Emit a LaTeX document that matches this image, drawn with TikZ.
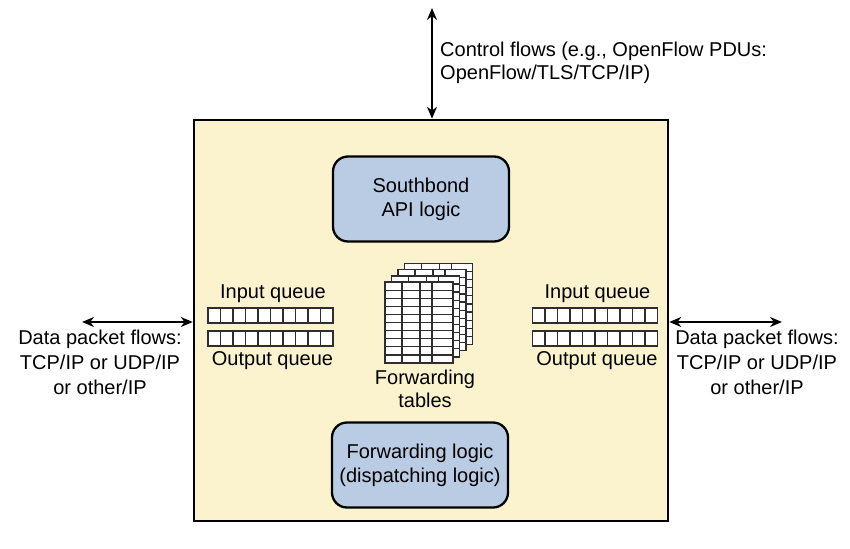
\documentclass[tikz,border=0pt]{standalone}
\usepackage{fontspec}
\setmainfont{Liberation Sans}
\usetikzlibrary{arrows.meta,calc}
\definecolor{boxyellow}{HTML}{FAF3CD}
\definecolor{boxblue}{HTML}{B9CCE4}
\definecolor{cellline}{HTML}{2E2E2E}
\tikzset{
  lbl/.style={font=\fontsize{20}{24}\selectfont, align=center, inner sep=0pt},
  arr/.style={line width=2pt, {Stealth[length=12pt,width=10pt]}-{Stealth[length=12pt,width=10pt]}},
  mainbox/.style={draw=black, fill=boxyellow, line width=2.5pt, minimum width=474pt, minimum height=401pt, inner sep=0pt},
  logicbox/.style={draw=black, fill=boxblue, line width=2.3pt, rounded corners=15pt, minimum width=176pt, minimum height=85pt, align=center, font=\fontsize{20}{24}\selectfont, inner sep=0pt},
  queuebox/.style={draw=cellline, fill=white, line width=1.5pt, minimum width=125pt, minimum height=15pt, inner sep=0pt,
    path picture={\foreach \i in {1,...,9}{\draw[line width=1.2pt, cellline]
      ($(path picture bounding box.south west)!\i/10!(path picture bounding box.south east)$) --
      ($(path picture bounding box.north west)!\i/10!(path picture bounding box.north east)$);}}},
  sheet/.style={draw=cellline, fill=white, line width=1.4pt},
  grid/.style={draw=cellline, line width=1.2pt}
}
\begin{document}
\begin{tikzpicture}[x=1pt,y=-1pt]
\useasboundingbox (0,0) rectangle (850,548);

\node[mainbox] (main) at (431,320.5) {};

\node[logicbox] (south) at (421,199) {Southbond\\API logic};
\node[logicbox] (fwd) at (420,465) {Forwarding logic\\(dispatching logic)};

% left queues
\node[queuebox] (qL1) at (270.5,315.5) {};
\node[queuebox] (qL2) at (270.5,338.5) {};
\node[lbl, anchor=base] (qLin) at (273,298) {Input queue};
\node[lbl, anchor=base] (qLout) at (272.5,365) {Output queue};

% right queues
\node[queuebox] (qR1) at (595,315.5) {};
\node[queuebox] (qR2) at (595,338.5) {};
\node[lbl, anchor=base] (qRin) at (597.5,298) {Input queue};
\node[lbl, anchor=base] (qRout) at (597,365) {Output queue};

% forwarding tables (stack of sheets)
\foreach \k in {3,2,1,0}{
  \begin{scope}[shift={(6.5*\k,-6.2*\k)}]
    \path[sheet] (385,282) rectangle (453,363);
    \foreach \cx in {402,420,432}{\draw[grid] (\cx,282) -- (\cx,363);}
    \foreach \r in {1,...,9}{\draw[grid] (385,282+8.1*\r) -- (453,282+8.1*\r);}
  \end{scope}
}
\node[lbl, font=\fontsize{20}{23}\selectfont] (tbltext) at (425,389) {Forwarding\\tables};

% control flow arrow
\coordinate (topEnd) at (432,8);
\draw[arr] (topEnd) -- (topEnd |- main.north);
\node[lbl, align=left, anchor=west, font=\fontsize{20}{23}\selectfont] (ctrl) at (440,63) {Control flows (e.g., OpenFlow PDUs:\\OpenFlow/TLS/TCP/IP)};

% data flow arrows
\coordinate (lEnd) at (82,322);
\draw[arr] (lEnd) -- (lEnd -| main.west);
\node[lbl, font=\fontsize{20}{25}\selectfont] (ldata) at (100,362) {Data packet flows:\\TCP/IP or UDP/IP\\or other/IP};

\coordinate (rEnd) at (782,322);
\draw[arr] (rEnd) -- (rEnd -| main.east);
\node[lbl, font=\fontsize{20}{25}\selectfont] (rdata) at (757,362) {Data packet flows:\\TCP/IP or UDP/IP\\or other/IP};
\end{tikzpicture}
\end{document}
